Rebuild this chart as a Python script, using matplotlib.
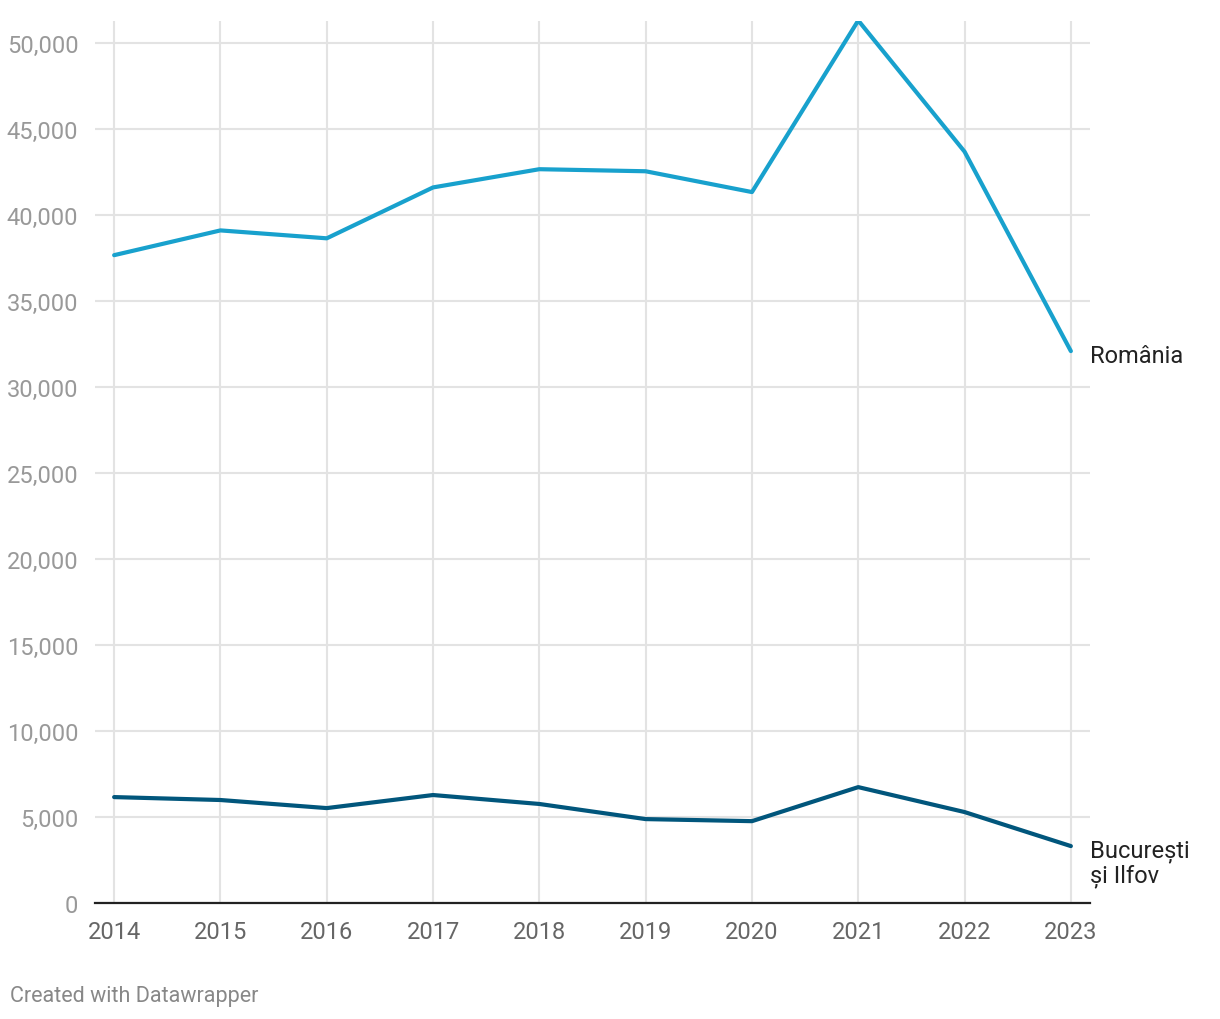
import matplotlib.pyplot as plt
from matplotlib.ticker import FuncFormatter

years = [2014, 2015, 2016, 2017, 2018, 2019, 2020, 2021, 2022, 2023]
romania = [37680, 39120, 38660, 41620, 42680, 42560, 41350, 51330, 43700, 32100]
bucuresti = [6160, 5990, 5520, 6280, 5760, 4880, 4760, 6740, 5290, 3310]
y_ticks = [0, 5000, 10000, 15000, 20000, 25000, 30000, 35000, 40000, 45000, 50000]

plt.rcParams['font.family'] = ['Roboto', 'DejaVu Sans']

fig = plt.figure(figsize=(12.2, 10.2), dpi=100)
ax = fig.add_axes([95 / 1220, 116 / 1020, 995 / 1220, 882 / 1020])

ax.plot(years, romania, color='#18a1cd', linewidth=3, solid_capstyle='round', zorder=3)
ax.plot(years, bucuresti, color='#01567c', linewidth=3, solid_capstyle='round', zorder=3)

ax.set_xlim(2014 - 0.18, 2023 + 0.18)
ax.set_ylim(0, 51300)
ax.set_xticks(years)
ax.set_yticks(y_ticks)
ax.yaxis.set_major_formatter(FuncFormatter(lambda v, p: f"{int(v):,}"))

ax.grid(True, color='#e3e3e3', linewidth=1.5, zorder=0)
for s in ax.spines.values():
    s.set_visible(False)
ax.axhline(0, color='#222222', linewidth=1.6, zorder=4, clip_on=False)

ax.tick_params(axis='both', length=0, labelsize=17)
ax.tick_params(axis='y', colors='#999999', pad=12)
ax.tick_params(axis='x', colors='#666666', pad=12)

ax.annotate("România", (years[-1], romania[-1]), textcoords="offset points",
            xytext=(14, -3), ha='left', va='center', fontsize=17, color='#222222',
            annotation_clip=False)
ax.annotate("București\nși Ilfov", (years[-1], bucuresti[-1]), textcoords="offset points",
            xytext=(14, -12), ha='left', va='center', fontsize=17, color='#222222',
            linespacing=1.05, annotation_clip=False)

fig.text(10 / 1220, 1 - 997 / 1020, "Created with Datawrapper", fontsize=15.5,
         color='#888888', ha='left', va='center')

fig.savefig("out.png", dpi=100)
